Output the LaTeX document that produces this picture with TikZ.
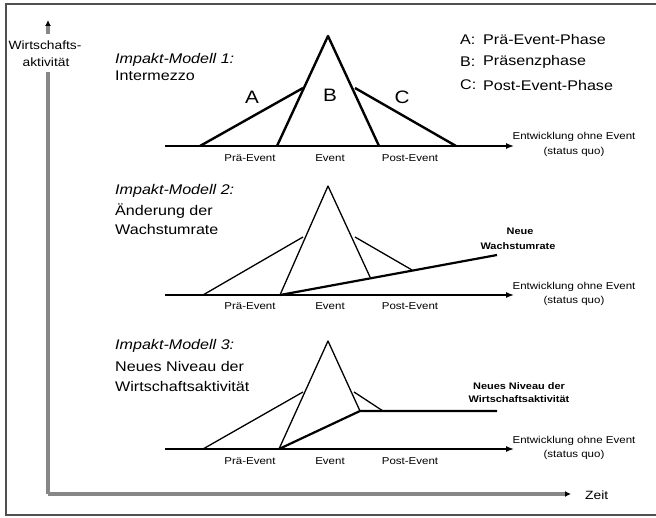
\documentclass[tikz,border=0pt]{standalone}
\usepackage{fontspec}
\setmainfont{Liberation Sans}[FakeStretch=1.15]
\usetikzlibrary{arrows.meta}
\definecolor{axisgray}{RGB}{135,135,135}
\definecolor{framegray}{RGB}{80,80,80}
\tikzset{
  base/.style={line width=1.4pt,-{Latex[length=8pt,width=6pt]}},
  thickseg/.style={line width=2.6pt},
  heavy/.style={line width=2.4pt,line join=round},
  light/.style={line width=1.3pt,line join=round},
  mid/.style={line width=2.2pt,line join=round},
  axis/.style={line width=3.2pt,color=axisgray},
  title/.style={anchor=west,inner sep=0pt,font=\fontsize{14}{16}\selectfont},
  legend/.style={anchor=west,inner sep=0pt,font=\fontsize{14}{16}\selectfont},
  phase/.style={inner sep=0pt,font=\fontsize{18}{20}\selectfont},
  tick/.style={inner sep=0pt,font=\fontsize{10}{12}\selectfont},
  note/.style={inner sep=0pt,font=\fontsize{10}{12}\selectfont},
  bnote/.style={inner sep=0pt,font=\bfseries\fontsize{9.5}{11}\selectfont},
  axlab/.style={inner sep=0pt,font=\fontsize{12}{14}\selectfont},
}
\begin{document}
\begin{tikzpicture}[x=1pt,y=-1pt]
\useasboundingbox (0,0) rectangle (656,518);
% frame
\draw[framegray,line width=1.3pt] (660,4) -- (6,4) -- (6,515) -- (660,515);
% axes
\coordinate (O) at (48,494);
\coordinate (Ytop) at (48,20);
\coordinate (Ybreak) at (48,72);
\coordinate (Xend) at (571,494);
\draw[axis] (O) -- (Ybreak);
\draw[axis,-{Latex[length=6pt,width=6pt,color=black]}] (48,34) -- (Ytop);
\draw[axis,-{Latex[length=6pt,width=6pt,color=black]}] (O) -- (Xend);
\node[axlab] (yl1) at (45,45) {Wirtschafts-};
\node[axlab] (yl2) at (46,62) {aktivität};
\node[axlab,anchor=west] (zeit) at (585,495) {Zeit};

% ---------- Model 1 ----------
\coordinate (b1s) at (165,146);
\coordinate (b1e) at (514,146);
\coordinate (a1) at (200,146);
\coordinate (l1) at (277,146);
\coordinate (j1l) at (303,88);
\coordinate (p1) at (328,36);
\coordinate (j1r) at (355,88);
\coordinate (r1) at (379,146);
\coordinate (c1) at (456,146);
\draw[base] (b1s) -- (b1e);
\draw[heavy] (a1) -- (j1l);
\draw[heavy] (l1) -- (p1) -- (r1);
\draw[heavy] (j1r) -- (c1);
\node[phase] (A) at (252,97) {A};
\node[phase] (B) at (330,95) {B};
\node[phase] (C) at (402,97) {C};
\node[title] (t1a) at (115,60) {\itshape Impakt-Modell 1:};
\node[title] (t1b) at (115,76) {Intermezzo};
\node[legend] (lA) at (460,40) {A:};
\node[legend] (lAt) at (483,40) {Prä-Event-Phase};
\node[legend] (lB) at (460,62) {B:};
\node[legend] (lBt) at (483,62) {Präsenzphase};
\node[legend] (lC) at (460,85) {C:};
\node[legend] (lCt) at (483,85) {Post-Event-Phase};
\node[tick] (pre1) at (250,158) {Prä-Event};
\node[tick] (ev1) at (330,158) {Event};
\node[tick] (post1) at (410,158) {Post-Event};
\node[note] (sq1a) at (574,137) {Entwicklung ohne Event};
\node[note] (sq1b) at (574,152) {(status quo)};

% ---------- Model 2 ----------
\coordinate (b2s) at (165,295);
\coordinate (b2e) at (514,295);
\coordinate (a2) at (203,295);
\coordinate (l2) at (280,295);
\coordinate (j2l) at (303,237);
\coordinate (p2) at (328,186);
\coordinate (j2r) at (355,237);
\coordinate (r2) at (370,277);
\coordinate (c2) at (412,270);
\coordinate (g2) at (497,255);
\draw[base] (b2s) -- (b2e);
\draw[thickseg] (b2s) -- (l2);
\draw[light] (a2) -- (j2l);
\draw[light] (l2) -- (p2) -- (r2);
\draw[light] (j2r) -- (c2);
\draw[mid] (l2) -- (g2);
\node[title] (t2a) at (115,191) {\itshape Impakt-Modell 2:};
\node[title] (t2b) at (115,211) {Änderung der};
\node[title] (t2c) at (115,229) {Wachstumrate};
\node[bnote] (g2a) at (520,231) {Neue};
\node[bnote] (g2b) at (518,246) {Wachstumrate};
\node[tick] (pre2) at (250,306) {Prä-Event};
\node[tick] (ev2) at (330,306) {Event};
\node[tick] (post2) at (410,306) {Post-Event};
\node[note] (sq2a) at (574,287) {Entwicklung ohne Event};
\node[note] (sq2b) at (574,301) {(status quo)};

% ---------- Model 3 ----------
\coordinate (b3s) at (165,449);
\coordinate (b3e) at (514,449);
\coordinate (a3) at (203,449);
\coordinate (l3) at (279,449);
\coordinate (j3l) at (303,392);
\coordinate (p3) at (328,341);
\coordinate (j3r) at (354,392);
\coordinate (k3) at (360,411);
\coordinate (c3) at (383,411);
\coordinate (n3) at (497,411);
\draw[base] (b3s) -- (b3e);
\draw[thickseg] (b3s) -- (l3);
\draw[light] (a3) -- (j3l);
\draw[light] (l3) -- (p3) -- (k3);
\draw[light] (j3r) -- (c3);
\draw[mid] (l3) -- (k3) -- (n3);
\node[title] (t3a) at (115,346) {\itshape Impakt-Modell 3:};
\node[title] (t3b) at (115,366) {Neues Niveau der};
\node[title] (t3c) at (115,386) {Wirtschaftsaktivität};
\node[bnote] (n3a) at (519,386) {Neues Niveau der};
\node[bnote] (n3b) at (519,399) {Wirtschaftsaktivität};
\node[tick] (pre3) at (250,461) {Prä-Event};
\node[tick] (ev3) at (330,461) {Event};
\node[tick] (post3) at (410,461) {Post-Event};
\node[note] (sq3a) at (574,441) {Entwicklung ohne Event};
\node[note] (sq3b) at (574,455) {(status quo)};
\end{tikzpicture}
\end{document}
